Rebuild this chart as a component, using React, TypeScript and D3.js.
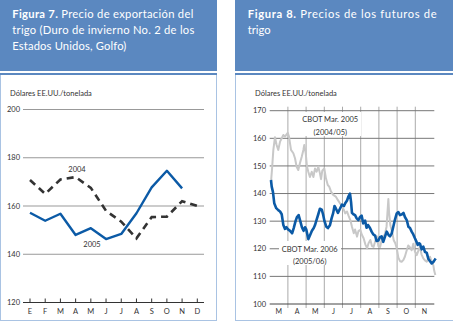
import React from "react";
import * as d3 from "d3";

// ---------- Figure 7 data ----------
const months7 = ["E", "F", "M", "A", "M", "J", "J", "A", "S", "O", "N", "D"];
const price2004 = [170.8, 165, 171, 172, 167.5, 158, 153.5, 146.6, 155.4, 155.6, 162, 160];
const price2005 = [157.2, 153.9, 156.8, 148, 150.8, 146.3, 148.4, 157, 167.7, 174.6, 167.3];
const yTicks7 = [120, 140, 160, 180, 200];

// ---------- Figure 8 data ----------
const months8 = ["M", "A", "M", "J", "J", "A", "S", "O", "N"];
const yTicks8 = [100, 110, 120, 130, 140, 150, 160, 170];
// position in months since 1 March
const cbot06T = [0.07,0.11,0.18,0.25,0.36,0.47,0.57,0.66,0.75,0.84,0.92,1.01,1.12,1.23,1.32,1.42,1.50,1.59,1.68,1.77,1.86,1.94,2.01,2.12,2.21,2.32,2.42,2.49,2.57,2.67,2.76,2.86,2.93,3.01,3.11,3.20,3.31,3.40,3.49,3.56,3.64,3.75,3.86,3.97,4.08,4.15,4.25,4.33,4.41,4.47,4.52,4.60,4.69,4.78,4.87,4.96,5.05,5.14,5.24,5.32,5.40,5.51,5.60,5.69,5.79,5.87,5.97,6.06,6.15,6.24,6.34,6.43,6.53,6.61,6.70,6.79,6.88,6.98,7.07,7.16,7.27,7.35,7.43,7.53,7.62,7.71,7.80,7.89,7.98,8.07,8.13,8.20,8.26,8.35,8.44,8.53,8.63,8.71,8.81,8.90,8.99,9.05,9.12];
const cbot06V = [144.9,142.5,140.5,136.5,134.7,134,133.5,132.5,128.6,127.2,127.8,127,126.5,125.6,127.5,130,131.5,132.2,130,127.8,126.5,127.8,127,123.5,124.8,126.5,127.5,128.6,130.4,132.5,134.5,134.2,132.5,130,128,127.5,128.5,131,133,135.5,134.5,133,134.5,136,135.5,136.5,137.5,139,140,137,133,132.5,132.2,131,130.4,131.5,132,129.2,130.2,127.6,128.6,127.5,126.2,125.2,124.8,122.8,123,124.2,124.5,122.5,124.5,126.2,125,124.5,125.5,128,130.5,132.8,133.3,132.2,132.5,133,131.5,130.4,128,127.5,126.2,125.2,123.8,122.5,121.4,122,121.8,119.8,120.8,118.9,118.5,116.5,115.5,114.7,115.2,115.8,116.5];
const cbot05T = [0.07,0.13,0.20,0.29,0.38,0.47,0.57,0.66,0.75,0.84,0.99,1.06,1.17,1.30,1.39,1.48,1.57,1.66,1.76,1.85,1.90,1.98,2.05,2.12,2.21,2.31,2.40,2.49,2.58,2.67,2.76,2.82,2.89,3.00,3.09,3.19,3.27,3.37,3.49,3.63,3.74,3.86,3.99,4.08,4.15,4.25,4.33,4.43,4.52,4.62,4.69,4.80,4.88,4.98,5.07,5.16,5.26,5.35,5.43,5.53,5.62,5.71,5.81,5.89,5.97,6.07,6.16,6.26,6.34,6.42,6.47,6.52,6.56,6.63,6.73,6.81,6.90,6.98,7.07,7.16,7.25,7.35,7.43,7.51,7.61,7.71,7.80,7.89,7.98,8.08,8.18,8.26,8.34,8.44,8.53,8.63,8.72,8.81,8.89,8.99,9.04,9.10];
const cbot05V = [144,149,155.8,160.4,157.6,155.8,158.8,160,161.2,160.6,162,160.6,155.8,154.6,152.8,149.7,148.5,151,153.3,155.8,157.6,154.6,149.7,147.9,146,147.9,146,149.1,147.9,149.7,147.3,145.2,148.3,149.1,145.5,143.1,142.5,140.7,139.5,138.9,137.7,136.5,135.2,134,132.8,133.5,132,130.4,128,125.6,127,124.4,126.5,126.8,125,123.8,121.5,120.2,122,123.2,121,120.7,123,124.5,121,120.7,123.5,124.4,125.6,128,133,138,133,128.5,126,123.2,122,120.2,116.8,115.5,115.3,116,117.2,119,121.2,120.5,119.5,121.8,119,117.7,119.5,120.7,118,116.5,115.8,115.3,116.5,117.1,115.5,114.1,112,110.5];

const HEADER = "#5b88c0";
const FRAME = "#a9c3e3";
const FONT = "'Lato', 'Liberation Sans', sans-serif";

export default function App() {
  // Figure 7 scales
  const x7 = d3.scalePoint<string>().domain(months7.map((m, i) => i + m)).range([30, 197.3]);
  const x7i = (i: number) => x7(i + months7[i]) as number;
  const y7 = d3.scaleLinear().domain([120, 200]).range([302.5, 109.5]);
  const line7 = d3.line<number>().x((_, i) => x7i(i)).y((d) => y7(d));

  // Figure 8 scales
  const x8 = d3.scaleLinear().domain([0, 9]).range([269.7, 433.5]);
  const y8 = d3.scaleLinear().domain([100, 170]).range([304, 110.7]);
  const line8 = d3.line<[number, number]>().x((d) => x8(d[0])).y((d) => y8(d[1]));
  const blue = cbot06T.map((t, i) => [t, cbot06V[i]] as [number, number]);
  const gray = cbot05T.map((t, i) => [t, cbot05V[i]] as [number, number]);

  return (
    <svg width={453} height={323} style={{ position: "absolute", left: 0, top: 0 }} fontFamily={FONT}>
      <rect width={453} height={323} fill="#fff" />
      {/* Headers */}
      <rect x={0} y={0} width={217} height={71} fill={HEADER} />
      <rect x={235} y={0} width={218} height={71} fill={HEADER} />
      <text fill="#fff" fontSize={11.2}>
        <tspan x={12.3} y={18} textLength={181} lengthAdjust="spacing"><tspan fontWeight="bold">Figura 7.</tspan> Precio de exportación del</tspan>
        <tspan x={12.3} y={34} textLength={182} lengthAdjust="spacing">trigo (Duro de invierno No. 2 de los</tspan>
        <tspan x={12.3} y={50} textLength={114} lengthAdjust="spacing">Estados Unidos, Golfo)</tspan>
      </text>
      <text fill="#fff" fontSize={11.2}>
        <tspan x={247.7} y={18} textLength={189} lengthAdjust="spacing"><tspan fontWeight="bold">Figura 8.</tspan> Precios de los futuros de</tspan>
        <tspan x={247.7} y={34}>trigo</tspan>
      </text>
      {/* Frames */}
      <rect x={0.5} y={73.5} width={216} height={247} fill="none" stroke={FRAME} strokeWidth={1} />
      <line x1={0} x2={217} y1={74} y2={74} stroke={HEADER} strokeWidth={2} />
      <rect x={235.5} y={73.5} width={218} height={247} fill="none" stroke={FRAME} strokeWidth={1} />
      <line x1={235} x2={453} y1={74} y2={74} stroke={HEADER} strokeWidth={2} />

      {/* ---------- Figure 7 ---------- */}
      <text x={10} y={96} fontSize={7.5} fill="#333">Dólares EE.UU./tonelada</text>
      {yTicks7.map((v) => (
        <g key={v}>
          <line x1={23} x2={204} y1={y7(v)} y2={y7(v)} stroke={v === 120 ? "#333" : "#999"} strokeWidth={1} />
          <text x={20} y={y7(v) + 2.7} fontSize={7.5} textAnchor="end" fill="#333">{v}</text>
        </g>
      ))}
      {months7.map((m, i) => (
        <g key={i}>
          <line x1={x7i(i)} x2={x7i(i)} y1={y7(120)} y2={y7(120) - 4} stroke="#333" strokeWidth={1} />
          <text x={x7i(i)} y={314} fontSize={7.5} textAnchor="middle" fill="#333">{m}</text>
        </g>
      ))}
      <path d={line7(price2004) as string} fill="none" stroke="#333" strokeWidth={2.6} strokeDasharray="7,5" />
      <path d={line7(price2005) as string} fill="none" stroke="#0b5aa6" strokeWidth={2.4} strokeLinejoin="round" />
      <text x={77} y={172} fontSize={7.5} textAnchor="middle" fill="#333">2004</text>
      <text x={92} y={247} fontSize={7.5} textAnchor="middle" fill="#333">2005</text>

      {/* ---------- Figure 8 ---------- */}
      <text x={255} y={96} fontSize={7.5} fill="#333">Dólares EE.UU./tonelada</text>
      {d3.range(1, 9).map((k) => (
        <line key={k} x1={x8(k)} x2={x8(k)} y1={y8(170) - 4} y2={y8(100) + 4} stroke="#aaa" strokeWidth={1} />
      ))}
      {yTicks8.map((v) => (
        <g key={v}>
          <line x1={269.7} x2={434.3} y1={y8(v)} y2={y8(v)} stroke={v === 100 ? "#444" : "#777"} strokeWidth={1} />
          <text x={266} y={y8(v) + 2.7} fontSize={7.5} textAnchor="end" fill="#333">{v}</text>
        </g>
      ))}
      {months8.map((m, i) => (
        <text key={i} x={x8(i + 0.5)} y={314} fontSize={7} textAnchor="middle" fill="#333">{m}</text>
      ))}
      <rect x={301} y={112} width={60} height={24} fill="#fff" />
      <rect x={279} y={241} width={62} height={24} fill="#fff" />
      <text x={330.3} y={122} fontSize={7.5} textAnchor="middle" fill="#333">CBOT Mar. 2005</text>
      <text x={330.3} y={134.5} fontSize={7.5} textAnchor="middle" fill="#333">(2004/05)</text>
      <text x={309.7} y={251.7} fontSize={7.5} textAnchor="middle" fill="#333">CBOT Mar. 2006</text>
      <text x={309.7} y={264.3} fontSize={7.5} textAnchor="middle" fill="#333">(2005/06)</text>
      <path d={line8(gray) as string} fill="none" stroke="#c8c8c8" strokeWidth={2} strokeLinejoin="round" />
      <path d={line8(blue) as string} fill="none" stroke="#0b5aa6" strokeWidth={2.6} strokeLinejoin="round" />
    </svg>
  );
}
